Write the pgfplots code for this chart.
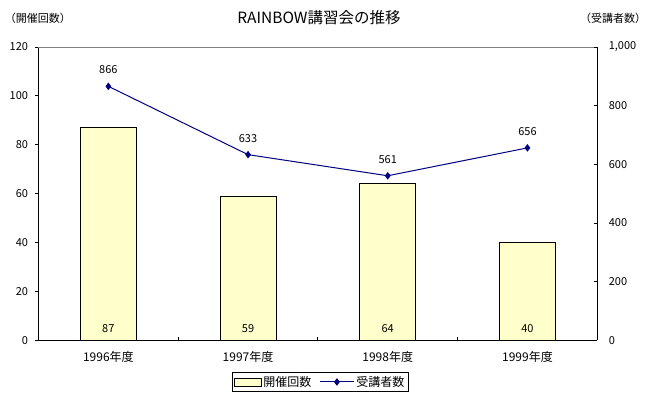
\documentclass[border=0pt]{standalone}
\usepackage{fontspec}
\setmainfont{Noto Sans CJK JP}
\usepackage{pgfplots}
\pgfplotsset{compat=1.18}
\definecolor{barfill}{RGB}{255,255,204}
\definecolor{navyline}{RGB}{0,0,128}
\definecolor{topgray}{RGB}{128,128,128}
\pgfplotsset{
  barlegend/.style={legend image code/.code={\draw[fill=barfill, draw=black, line width=0.8pt] (0pt,-4pt) rectangle (27pt,4pt);}},
  linelegend/.style={legend image code/.code={\draw[##1, mark repeat=2, mark phase=2] plot coordinates {(0pt,0pt) (17pt,0pt) (34pt,0pt)};}},
}
\begin{document}
\begin{tikzpicture}[x=1pt,y=1pt]
\useasboundingbox (0,0) rectangle (649,397);
\node[font=\fontsize{15.5}{17}\selectfont] at (319,379) {RAINBOW講習会の推移};
\node[font=\fontsize{11}{13}\selectfont, inner sep=0pt] at (38,379) {（開催回数）};
\node[font=\fontsize{11}{13}\selectfont, inner sep=0pt] at (613,379) {（受講者数）};
\begin{axis}[
  at={(38.5pt,56.7pt)}, anchor=south west,
  scale only axis, width=558.8pt, height=293.3pt,
  xmin=-0.5, xmax=3.5, ymin=0, ymax=120,
  axis x line*=bottom, axis y line*=left,
  axis line style={black, line width=0.8pt},
  tick align=outside, major tick length=3pt,
  xtick=\empty,
  ytick={0,20,...,120},
  tick style={black, line width=0.8pt},
  /pgf/number format/assume math mode=true,
  yticklabel style={font=\fontsize{11}{13}\selectfont, xshift=-4pt},
  clip=false,
]
\addplot[ybar, bar width=0.4, fill=barfill, draw=black, line width=0.8pt] coordinates {(0,87) (1,59) (2,64) (3,40)};
\addplot[draw=none, nodes near coords, point meta=explicit symbolic,
  every node near coord/.append style={anchor=center, font=\fontsize{11}{13}\selectfont}]
  coordinates {(0,5)[87] (1,5)[59] (2,5)[64] (3,5)[40]};
\draw[topgray, line width=0.8pt] (rel axis cs:0,1) -- (rel axis cs:1,1);
\end{axis}
\begin{axis}[
  at={(38.5pt,56.7pt)}, anchor=south west,
  scale only axis, width=558.8pt, height=293.3pt,
  xmin=-0.5, xmax=3.5, ymin=0, ymax=1000,
  axis x line*=bottom, axis y line*=right,
  axis line style={black, line width=0.8pt},
  tick align=inside, major tick length=3pt,
  xtick={0.5,1.5,2.5}, xticklabels={},
  extra x ticks={0,1,2,3},
  extra x tick labels={1996年度,1997年度,1998年度,1999年度},
  extra x tick style={major tick length=0pt, xticklabel style={font=\fontsize{12}{14}\selectfont, yshift=-8pt}},
  ytick={0,200,...,1000},
  tick style={black, line width=0.8pt},
  /pgf/number format/assume math mode=true,
  /pgf/number format/1000 sep={,},
  yticklabel style={font=\fontsize{11}{13}\selectfont, xshift=8pt},
  clip=false,
  legend columns=2,
  legend style={at={(0.5038,-0.142)}, anchor=center, draw=black, line width=0.8pt,
    font=\fontsize{12}{14}\selectfont, inner sep=1.5pt,
    /tikz/every even column/.append style={column sep=6pt}},
]
\addlegendimage{barlegend}
\addlegendentry{開催回数}
\addplot[navyline, line width=1pt, mark=diamond*, mark size=3pt,
  mark options={fill=navyline, draw=navyline},
  linelegend,
  nodes near coords,
  every node near coord/.append style={anchor=center, yshift=16.5pt, text=black, font=\fontsize{11}{13}\selectfont}]
  coordinates {(0,866) (1,633) (2,561) (3,656)};
\addlegendentry{受講者数}
\end{axis}
\end{tikzpicture}
\end{document}
